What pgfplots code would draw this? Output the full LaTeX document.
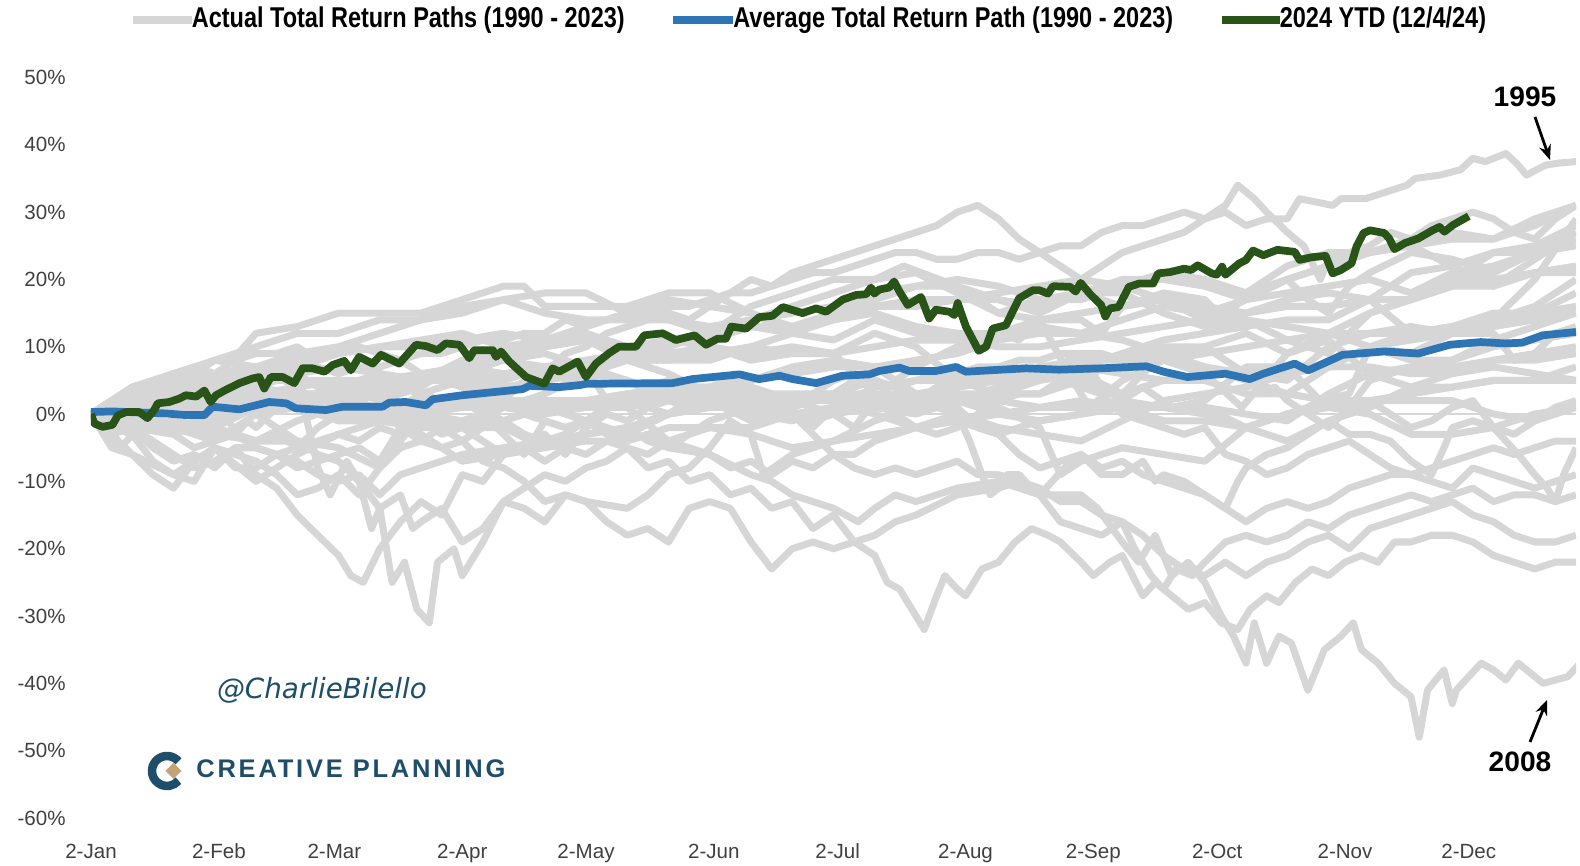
\documentclass[border=0pt]{standalone}
\usepackage{fontspec}
\setmainfont{Liberation Sans}
\newfontfamily\legfont{Liberation Sans}[FakeStretch=0.82]
\newfontfamily\wmfont{DejaVu Sans}
\newfontfamily\cpfont{Liberation Sans}[LetterSpace=11]
\usepackage{pgfplots}
\pgfplotsset{compat=1.18}
\usetikzlibrary{arrows.meta}
\definecolor{pathgray}{RGB}{214,214,214}
\definecolor{avgblue}{RGB}{46,117,182}
\definecolor{ytdgreen}{RGB}{40,84,24}
\definecolor{cpblue}{RGB}{30,78,106}
\definecolor{cptan}{RGB}{196,164,118}
\definecolor{ticktext}{RGB}{64,64,64}

\begin{document}
\begin{tikzpicture}
% page = 1580 x 866 px, 1 px = 0.02 cm, axis box starts at (0,0)
\path (-1.82,-0.96) rectangle (29.78,16.36);
\begin{axis}[
  at={(0,0)}, anchor=south west, scale only axis,
  width=29.7cm, height=14.81cm,
  xmin=0, xmax=360, ymin=-60, ymax=50,
  axis line style={draw=none}, major tick length=0pt,
  ytick={-60,-50,...,50},
  yticklabels={-60\%,-50\%,-40\%,-30\%,-20\%,-10\%,0\%,10\%,20\%,30\%,40\%,50\%},
  xtick={0,31,59,90,120,151,181,212,243,273,304,334},
  xticklabels={2-Jan,2-Feb,2-Mar,2-Apr,2-May,2-Jun,2-Jul,2-Aug,2-Sep,2-Oct,2-Nov,2-Dec},
  ticklabel style={font=\fontsize{11.7}{14}\selectfont, text=ticktext},
  yticklabel style={anchor=east, inner sep=0pt, xshift=-0.5cm},
  xticklabel style={anchor=mid, inner sep=0pt, yshift=-0.72cm},
  gp/.style={pathgray, line width=4pt, line join=round},
]
\draw[pathgray, line width=1.2pt] (axis cs:0,0) -- (axis cs:360,0);

% 1990 - 2023 paths
\addplot[gp] coordinates {(0,0)(5,-1)(10,-2)(15,-4)(20,-6)(25,-8)(30,-7)(35,-5)(40,-5)(45,-6)(50,-5)(55,-4)(60,-3)(65,-4)(70,-2)(75,-3)(80,-2)(85,-1)(90,-2)(95,-1)(100,-1)(105,-3)(110,-4)(115,-3)(120,-1)(125,1)(130,3)(135,2)(140,3)(145,4)(150,4)(155,5)(160,4)(165,3)(170,2)(175,3)(180,3)(185,5)(190,7)(195,5)(200,3)(205,2)(210,1)(215,-2)(220,-3)(225,-6)(230,-8)(235,-7)(240,-6)(245,-8)(250,-7)(255,-9)(260,-10)(265,-11)(270,-12)(275,-14)(280,-16)(285,-14)(290,-13)(295,-14)(300,-13)(305,-11)(310,-10)(315,-9)(320,-9)(325,-8)(330,-7)(335,-6)(340,-5)(345,-6)(350,-5)(355,-4)(360,-4)};
\addplot[gp] coordinates {(0,0)(7,-5)(15,0)(20,3)(30,5)(40,12)(50,13)(60,15)(70,15)(80,15)(90,17)(100,19)(105,19)(110,16)(120,16)(130,16)(140,18)(150,18)(160,15)(170,13)(180,14)(190,16)(200,17)(210,17)(220,17)(230,16)(240,18)(250,16)(260,17)(270,16)(280,15)(290,17)(300,18)(310,17)(320,12)(330,13)(340,14)(350,20)(360,29)};
\addplot[gp] coordinates {(0,0)(10,1)(20,0)(30,1)(40,2)(50,2)(60,1)(70,0)(80,-1)(90,-2)(100,1)(110,0)(120,1)(130,2)(140,3)(150,2)(160,0)(170,-1)(180,1)(190,1)(200,0)(210,2)(220,0)(230,-1)(240,0)(250,1)(260,1)(270,0)(280,-2)(290,0)(300,1)(310,2)(320,3)(330,4)(340,5)(350,5)(360,7)};
\addplot[gp] coordinates {(0,0)(10,1)(20,1)(30,2)(40,3)(50,1)(60,4)(70,5)(80,3)(90,1)(100,2)(110,1)(120,2)(130,3)(140,4)(150,4)(160,3)(170,3)(180,3)(190,3)(200,3)(210,4)(220,5)(230,6)(240,7)(250,6)(260,5)(270,6)(280,6)(290,7)(300,7)(310,7)(320,6)(330,6)(340,8)(350,8)(360,9)};
\addplot[gp] coordinates {(0,0)(10,1)(20,2)(30,3)(40,1)(50,1)(60,-1)(70,0)(80,-3)(90,-7)(100,-6)(110,-5)(120,-4)(130,-4)(140,-2)(150,-2)(160,-3)(170,-5)(180,-4)(190,-3)(200,-2)(210,-1)(220,0)(230,1)(240,2)(250,1)(260,-1)(270,-1)(280,-2)(290,0)(300,1)(310,0)(320,-3)(330,-3)(340,-2)(350,0)(360,1)};
\addplot[gp] coordinates {(0,0)(5,0)(10,1)(15,2)(20,2)(25,3)(30,3)(35,4)(40,5)(45,6)(50,6)(55,7)(60,6)(65,7)(70,7)(75,8)(80,9)(85,9)(90,10)(95,11)(100,11)(105,12)(110,12)(115,14)(120,13)(125,14)(130,15)(135,15)(140,16)(145,16)(150,17)(155,18)(160,18)(165,19)(170,20)(175,21)(180,21)(185,22)(190,23)(195,24)(200,24)(205,23)(210,23)(215,24)(220,24)(225,23)(230,24)(235,25)(240,25)(245,27)(250,28)(255,28)(260,29)(265,30)(270,29)(275,30)(280,28)(285,29)(290,29)(293,32)(301,31)(303,32)(309,32)(314,33)(319,34)(321,35)(327,35.5)(332,36.3)(335,38)(338,37.5)(343,38.7)(345.5,37.3)(348,35.5)(349.5,36)(352.7,37)(356,37.3)(360,37.5)};
\addplot[gp] coordinates {(0,0)(10,-1)(20,2)(30,4)(40,6)(50,5)(60,5)(70,5)(80,6)(90,7)(100,6)(110,7)(120,8)(130,9)(140,11)(150,10)(160,9)(170,10)(180,9)(190,3)(200,2)(210,6)(220,7)(230,6)(240,7)(250,9)(260,11)(270,12)(280,13)(290,14)(300,14)(310,17)(320,21)(330,22)(340,19)(350,21)(360,22)};
\addplot[gp] coordinates {(0,0)(5,2)(10,3)(15,4)(20,5)(25,7)(30,6)(35,8)(40,9)(45,9)(50,10)(55,8)(60,9)(65,10)(70,9)(75,8)(80,6)(85,5)(90,4)(95,3)(100,2)(105,5)(110,6)(115,9)(120,10)(125,12)(130,13)(135,14)(140,15)(145,14)(150,16)(155,18)(160,20)(165,19)(170,21)(175,22)(180,23)(185,24)(190,25)(195,26)(200,27)(205,28)(210,30)(215,31)(220,29)(225,26)(230,24)(235,22)(240,20)(245,22)(250,24)(255,25)(260,26)(265,27)(270,29)(275,31)(278,34)(282,32)(285,30)(290,27)(294,25)(298,20)(300,23)(305,24)(310,25)(315,27)(320,26)(325,28)(330,29)(335,30)(340,29)(345,27)(350,26)(355,29)(360,31)};
\addplot[gp] coordinates {(0,0)(10,-2)(20,1)(30,4)(40,7)(50,9)(60,10)(70,12)(80,14)(90,15)(100,17)(110,15)(120,14)(130,14)(140,14)(150,13)(160,14)(170,16)(180,18)(190,20)(197,22)(210,19)(220,15)(230,14)(237,6)(242,1)(250,5)(260,8)(270,6)(279,1)(290,9)(300,12)(310,15)(320,17)(330,19)(340,19)(350,23)(360,27)};
\addplot[gp] coordinates {(0,0)(10,1)(20,2)(30,4)(40,1)(50,2)(60,4)(70,6)(80,5)(90,7)(100,9)(110,10)(120,11)(130,10)(140,8)(150,8)(160,10)(170,12)(180,14)(190,15)(200,13)(210,12)(220,11)(230,13)(240,12)(250,11)(260,9)(270,7)(280,6)(290,5)(300,10)(310,12)(320,12)(330,13)(340,14)(350,16)(360,20)};
\addplot[gp] coordinates {(0,0)(5,-3)(10,-2)(15,-1)(20,-3)(25,-5)(30,-4)(35,-3)(40,-5)(45,-6)(50,-8)(55,-7)(60,-6)(65,-5)(70,-7)(75,-2)(80,2)(85,1)(90,2)(95,0)(100,-3)(105,-6)(110,-1)(115,-2)(120,-1)(125,-3)(130,-4)(135,-3)(140,-5)(145,-3)(150,-1)(155,0)(160,1)(165,0)(170,0)(175,-1)(180,0)(185,2)(190,3)(195,0)(200,-2)(205,-3)(210,-2)(215,0)(220,2)(225,3)(230,3)(235,5)(240,4)(245,3)(250,0)(255,-1)(260,-2)(265,-3)(270,-2)(275,-6)(280,-7)(285,-9)(290,-8)(295,-6)(300,-5)(305,-4)(310,-6)(315,-8)(320,-9)(325,-10)(330,-11)(335,-8)(340,-9)(345,-10)(350,-11)(355,-10)(360,-9)};
\addplot[gp] coordinates {(0,0)(5,2)(10,1)(15,2)(20,3)(25,2)(30,3)(35,1)(40,0)(45,-2)(50,-4)(55,-6)(60,-7)(65,-10)(70,-14)(75,-12)(78,-17)(80,-16)(85,-14)(90,-19)(95,-17)(100,-13)(105,-11)(110,-9)(115,-10)(120,-8)(125,-7)(130,-5)(135,-6)(140,-4)(145,-5)(150,-6)(155,-8)(160,-7)(165,-9)(170,-7)(175,-8)(180,-6)(185,-8)(190,-9)(195,-8)(200,-9)(205,-8)(210,-7)(215,-9)(220,-9)(225,-10)(230,-11)(235,-13)(240,-13)(245,-15)(250,-16)(253,-20)(257,-24)(260,-26)(263,-23)(267,-24)(270,-22)(275,-19)(280,-18)(285,-19)(290,-18)(295,-16)(300,-17)(305,-15)(310,-14)(315,-13)(320,-12)(325,-13)(330,-12)(335,-11)(340,-13)(345,-12)(350,-12)(355,-13)(360,-12)};
\addplot[gp] coordinates {(0,0)(5,1)(10,0)(15,-2)(20,-3)(25,-1)(30,-2)(35,-3)(40,-4)(45,-3)(50,-5)(55,-2)(60,0)(65,1)(70,0)(75,-1)(80,-1)(85,-3)(90,-2)(95,-4)(100,-6)(105,-5)(110,-7)(115,-5)(120,-6)(125,-4)(130,-5)(135,-8)(140,-7)(145,-10)(150,-9)(155,-12)(160,-11)(165,-14)(170,-13)(175,-17)(180,-15)(185,-19)(190,-21)(193,-25)(196,-26)(199,-29)(202,-32)(205,-27)(207,-24)(210,-26)(212,-27)(216,-23)(220,-22)(224,-19)(228,-17)(232,-18)(235,-19)(240,-22)(243,-24)(247,-22)(250,-21)(255,-27)(258,-25)(262,-27)(266,-29)(270,-28)(274,-31)(278,-32)(281,-29)(285,-27)(288,-28)(292,-25)(296,-23)(300,-24)(304,-22)(308,-21)(312,-22)(316,-19)(320,-19)(325,-18)(330,-18)(335,-19)(340,-21)(345,-22)(350,-23)(355,-22)(360,-22)};
\addplot[gp] coordinates {(0,0)(10,3)(20,1)(30,-2)(40,-4)(50,-4)(60,-5)(70,-8)(80,0)(90,-1)(100,1)(110,3)(120,6)(130,8)(140,8)(150,11)(160,13)(170,12)(180,11)(190,14)(200,12)(210,12)(220,12)(230,14)(240,15)(250,16)(260,17)(270,14)(280,17)(290,18)(300,19)(310,20)(320,18)(330,21)(340,22)(350,24)(360,27)};
\addplot[gp] coordinates {(0,0)(10,2)(20,3)(30,2)(40,3)(50,3)(60,3)(70,-1)(80,-2)(90,2)(100,2)(110,1)(120,-1)(130,-3)(140,0)(150,1)(160,2)(170,2)(180,2)(190,0)(200,-2)(210,-1)(220,-3)(230,-1)(240,0)(250,1)(260,1)(270,1)(280,0)(290,-1)(300,3)(310,6)(320,7)(330,7)(340,8)(350,9)(360,10)};
\addplot[gp] coordinates {(0,0)(10,-2)(20,-3)(30,-1)(40,1)(50,1)(60,1)(70,0)(80,-2)(90,-2)(100,-2)(110,-5)(120,-3)(130,-2)(140,0)(150,1)(160,1)(170,0)(180,1)(190,2)(200,3)(210,3)(220,2)(230,1)(240,1)(250,2)(260,1)(270,1)(280,-2)(290,-4)(300,-1)(310,1)(320,4)(330,4)(340,5)(350,5)(360,5)};
\addplot[gp] coordinates {(0,0)(10,2)(20,0)(30,2)(40,2)(50,3)(60,3)(70,4)(80,5)(90,5)(100,4)(110,5)(120,6)(130,5)(140,2)(150,2)(160,-1)(170,1)(180,3)(190,1)(200,1)(210,3)(220,3)(230,5)(240,6)(250,7)(260,8)(270,9)(280,10)(290,11)(300,12)(310,12)(320,13)(330,12)(340,14)(350,15)(360,16)};
\addplot[gp] coordinates {(0,0)(10,1)(20,2)(30,3)(40,3)(50,4)(60,-1)(70,-1)(80,2)(90,1)(100,3)(110,5)(120,7)(130,8)(140,9)(150,10)(160,8)(170,9)(180,9)(190,12)(200,10)(210,5)(220,3)(230,3)(240,5)(250,3)(260,9)(270,10)(280,12)(290,9)(300,11)(310,6)(320,4)(330,6)(340,7)(350,6)(360,5)};
\addplot[gp] coordinates {(0,0)(5,-3)(10,-6)(15,-9)(20,-11)(25,-7)(30,-5)(35,-8)(40,-8)(45,-6)(50,-7)(55,-9)(60,-10)(65,-9)(70,-12)(75,-9)(80,-8)(85,-7)(90,-6)(100,-5)(110,-4)(120,-3)(130,-2)(135,-4)(140,-5)(150,-6)(160,-9)(165,-10)(170,-12)(180,-14)(186,-16)(190,-14)(195,-12)(200,-13)(210,-11)(220,-10)(230,-12)(240,-12)(244,-14)(250,-19)(254,-22)(258,-18)(262,-24)(266,-22)(270,-25)(274,-30)(277,-33)(280,-37)(282,-31)(285,-37)(288,-33)(291,-34)(295,-41)(299,-35)(303,-33)(306,-31)(308,-35)(312,-37)(316,-40)(320,-42)(322,-48)(324,-41)(328,-38)(330,-43)(331,-41)(337,-37)(340,-38)(343,-39.5)(346,-37)(352,-40)(358,-39)(361,-37)};
\addplot[gp] coordinates {(0,0)(5,1)(10,-2)(15,-5)(20,-7)(25,-6)(30,-8)(35,-5)(40,-9)(45,-11)(50,-15)(55,-18)(60,-21)(63,-24)(66,-25)(70,-20)(75,-16)(80,-13)(85,-15)(90,-9)(95,-10)(100,-6)(110,-3)(115,-6)(120,-2)(125,0)(130,-1)(135,1)(140,0)(150,4)(155,5)(160,4)(165,1)(170,2)(180,0)(185,-2)(190,2)(195,5)(200,7)(210,10)(220,12)(225,11)(230,14)(240,14)(245,12)(250,16)(260,18)(270,17)(275,14)(280,18)(290,20)(295,17)(300,15)(305,19)(310,21)(320,24)(330,23)(335,22)(340,24)(350,24)(360,26)};
\addplot[gp] coordinates {(0,0)(10,2)(20,-2)(30,-3)(40,-4)(50,-1)(60,1)(70,3)(80,5)(90,6)(100,8)(110,9)(120,7)(125,2)(130,1)(140,-4)(150,-2)(160,-2)(170,0)(180,-6)(185,-6)(190,-4)(200,-2)(210,0)(220,-2)(230,-3)(240,-4)(250,-1)(260,2)(270,3)(280,4)(290,6)(300,7)(310,10)(320,8)(330,8)(340,11)(350,13)(360,15)};
\addplot[gp] coordinates {(0,0)(5,1)(10,2)(15,3)(20,3)(25,2)(30,4)(35,5)(40,6)(45,7)(50,6)(55,4)(60,4)(65,3)(70,2)(75,1)(80,3)(85,4)(90,5)(95,4)(100,5)(105,6)(110,7)(115,6)(120,7)(125,6)(130,5)(135,4)(140,5)(145,3)(150,4)(155,2)(160,1)(165,-1)(170,1)(175,3)(180,5)(185,6)(190,5)(195,4)(200,2)(205,1)(210,0)(213,-4)(216,-9)(218,-12)(220,-11)(222,-9)(225,-9)(228,-11)(230,-12)(233,-10)(236,-8)(240,-6)(245,-9)(250,-9)(255,-7)(258,-10)(260,-9)(265,-10)(270,-12)(275,-14)(278,-10)(280,-8)(285,-6)(290,-5)(295,-3)(300,-1)(305,-3)(310,-3)(315,-4)(320,-7)(325,-9)(328,-5)(330,-2)(335,-1)(340,-2)(345,-3)(350,-1)(355,1)(360,2)};
\addplot[gp] coordinates {(0,0)(10,2)(20,4)(30,5)(40,7)(50,8)(60,9)(70,10)(80,11)(90,12)(100,10)(110,10)(120,11)(130,8)(140,6)(150,3)(160,5)(170,7)(180,8)(190,7)(200,8)(210,9)(220,11)(230,12)(240,12)(250,14)(260,16)(270,15)(280,14)(290,13)(300,12)(310,10)(320,9)(330,12)(340,13)(350,14)(360,15)};
\addplot[gp] coordinates {(0,0)(10,4)(20,5)(30,6)(40,7)(50,7)(60,9)(70,10)(80,10)(90,11)(100,12)(110,11)(120,13)(130,15)(140,17)(150,16)(160,15)(170,12)(180,15)(190,18)(200,19)(210,20)(220,19)(230,17)(240,17)(250,19)(260,21)(270,20)(280,18)(290,22)(300,24)(310,24)(320,26)(330,27)(340,26)(350,28)(360,31)};
\addplot[gp] coordinates {(0,0)(10,0)(20,-2)(30,-4)(40,0)(50,1)(60,2)(70,1)(80,1)(90,2)(100,-1)(110,1)(120,1)(130,3)(140,3)(150,4)(160,5)(170,6)(180,7)(190,7)(200,7)(210,4)(220,5)(230,7)(240,8)(250,8)(260,9)(270,7)(280,5)(290,3)(300,7)(310,10)(320,11)(330,12)(340,12)(345,8)(350,9)(355,12)(360,13)};
\addplot[gp] coordinates {(0,0)(10,-2)(20,-1)(30,-2)(40,1)(50,2)(60,2)(70,0)(80,1)(90,1)(100,2)(110,2)(120,2)(130,3)(140,3)(150,2)(160,1)(170,2)(180,0)(190,1)(200,2)(210,2)(220,1)(230,-2)(235,-9)(240,-7)(250,-5)(260,-6)(270,-7)(280,-2)(290,0)(300,2)(310,2)(320,2)(330,2)(340,0)(350,-1)(360,1)};
\addplot[gp] coordinates {(0,0)(5,-5)(10,-6)(20,-9)(30,-5)(40,-10)(50,-6)(60,-3)(70,-1)(80,0)(90,1)(100,1)(110,2)(120,1)(130,1)(140,2)(150,3)(160,2)(170,0)(175,-2)(180,1)(190,4)(200,5)(210,5)(220,6)(230,6)(240,6)(250,3)(260,5)(270,5)(280,3)(290,3)(300,2)(305,1)(310,5)(320,7)(330,8)(340,10)(350,11)(360,12)};
\addplot[gp] coordinates {(0,0)(10,1)(20,2)(30,3)(40,5)(50,6)(60,7)(70,6)(80,5)(90,6)(100,5)(110,7)(120,7)(130,8)(140,8)(150,9)(160,10)(170,9)(180,9)(190,10)(200,11)(210,11)(220,10)(230,10)(240,11)(250,12)(260,13)(270,14)(280,15)(290,16)(300,16)(310,17)(320,17)(330,19)(340,20)(350,21)(360,21)};
\addplot[gp] coordinates {(0,0)(5,2)(10,4)(15,5)(20,6)(25,7)(28,5)(32,1)(35,-3)(38,-1)(40,-2)(45,1)(50,2)(55,3)(60,-1)(65,0)(70,1)(75,-2)(80,-4)(85,-2)(90,-4)(95,-2)(100,-1)(105,0)(110,-1)(115,-2)(120,-1)(125,1)(130,2)(135,1)(140,2)(145,1)(150,2)(155,3)(160,4)(165,3)(170,2)(175,2)(180,3)(185,4)(190,5)(195,4)(200,5)(205,6)(210,6)(215,7)(220,7)(225,8)(230,8)(235,9)(240,9)(245,9)(250,8)(255,9)(260,10)(265,10)(270,10)(275,8)(280,6)(283,3)(287,4)(290,2)(295,0)(300,-2)(305,1)(310,2)(315,0)(320,-2)(325,-1)(330,1)(335,2)(340,-2)(343,-4)(346,-6)(350,-9)(353,-11)(355,-13)(357,-9)(360,-5)};
\addplot[gp] coordinates {(0,0)(10,4)(20,6)(30,8)(40,10)(50,12)(60,12)(70,14)(80,14)(90,16)(100,17)(110,18)(120,18)(130,15)(140,14)(150,12)(160,16)(170,18)(180,20)(190,20)(200,21)(210,18)(220,15)(230,17)(240,18)(250,20)(260,20)(270,19)(280,17)(290,20)(300,22)(310,24)(320,25)(330,26)(340,26)(350,29)(360,31)};
\addplot[gp] coordinates {(0,0)(5,0)(10,1)(15,2)(20,3)(25,0)(30,-1)(35,3)(40,4)(45,5)(48,5)(52,0)(55,-8)(58,-12)(62,-7)(65,-10)(68,-17)(70,-14)(73,-25)(76,-22)(79,-29)(82,-31)(84,-22)(88,-20)(90,-24)(95,-19)(100,-13)(105,-14)(110,-16)(115,-12)(120,-13)(130,-14)(135,-12)(140,-9)(145,-8)(150,-5)(155,-1)(160,-3)(163,-9)(170,-6)(175,-5)(180,-4)(190,-1)(200,1)(210,2)(220,4)(230,6)(240,9)(245,4)(250,2)(255,4)(262,1)(270,2)(280,7)(290,7)(298,2)(305,3)(310,10)(320,12)(330,13)(340,15)(350,15)(360,18)};
\addplot[gp] coordinates {(0,0)(10,2)(20,2)(30,0)(40,4)(50,3)(60,2)(70,4)(80,5)(90,8)(100,10)(110,11)(120,12)(130,10)(140,11)(150,12)(160,13)(170,13)(180,15)(190,16)(200,16)(210,17)(220,18)(230,19)(240,20)(250,19)(260,17)(270,15)(280,17)(290,20)(300,22)(310,24)(320,25)(330,22)(340,24)(350,25)(360,28)};
\addplot[gp] coordinates {(0,0)(5,-2)(10,-3)(15,-7)(20,-9)(25,-10)(30,-5)(35,-6)(40,-7)(45,-9)(50,-12)(55,-11)(60,-9)(65,-12)(70,-8)(75,-5)(80,-4)(85,-5)(90,-4)(95,-7)(100,-8)(105,-10)(110,-13)(115,-12)(120,-13)(125,-16)(130,-18)(135,-17)(140,-19)(145,-14)(150,-13)(155,-14)(160,-19)(165,-23)(170,-20)(175,-19)(180,-20)(185,-19)(190,-18)(195,-16)(200,-15)(210,-12)(220,-11)(225,-10)(230,-12)(235,-16)(240,-17)(245,-18)(250,-16)(255,-18)(260,-21)(265,-23)(270,-24)(275,-22)(280,-24)(285,-22)(290,-21)(295,-19)(300,-18)(305,-20)(310,-17)(315,-16)(320,-15)(325,-14)(330,-13)(335,-15)(340,-16)(345,-18)(350,-19)(355,-19)(360,-18)};
\addplot[gp] coordinates {(0,0)(10,3)(20,4)(30,8)(40,7)(50,4)(60,5)(70,2)(80,4)(90,8)(100,8)(110,7)(120,8)(130,8)(140,10)(150,12)(160,14)(170,15)(180,16)(190,17)(200,19)(210,19)(220,17)(230,15)(240,18)(250,18)(260,15)(270,13)(280,14)(290,11)(300,9)(310,15)(320,17)(330,20)(340,21)(350,24)(360,25)};

% average path
\addplot[avgblue, line width=4.4pt, line join=round] coordinates {(0,0.3)(5,0.4)(13.3,0.2)(18,0.1)(23,-0.15)(27.5,-0.15)(29.5,1.1)(36,0.7)(43.2,1.8)(47.3,1.6)(49.7,0.85)(57,0.6)(61,1.1)(70.7,1.1)(72.3,1.7)(76.3,1.8)(81.2,1.3)(82.8,2.2)(90,2.8)(98.2,3.3)(104.6,3.7)(106.3,4.2)(113.5,4.0)(118.4,4.3)(120,4.5)(141,4.6)(145.8,5.2)(157.2,5.9)(162,5.2)(166.9,5.7)(170.1,5.2)(175.8,4.6)(182.2,5.7)(188.7,5.9)(191.1,6.4)(196,6.9)(198.4,6.4)(204.8,6.4)(209.7,7)(212.1,6.3)(217.8,6.5)(226.7,6.8)(234.7,6.6)(244.9,6.8)(255.8,7.1)(260,6.3)(265.8,5.5)(275,6)(280.9,5.2)(284.2,6)(291.8,7.5)(295.1,6.5)(303.4,8.8)(313.5,9.3)(321.8,9)(329.4,10.3)(336.9,10.7)(342.7,10.5)(346.9,10.6)(351.9,11.7)(360,12.2)};

% 2024 YTD
\addplot[ytdgreen, line width=4.4pt, line join=round] coordinates {(0,0)(0.8,-1.4)(2.8,-1.9)(5.2,-1.6)(6.5,-0.2)(8.5,0.3)(11.7,0.3)(13.7,-0.6)(15.3,0.6)(16.2,1.6)(19,1.8)(21.4,2.3)(23,2.8)(25.5,2.6)(27.5,3.5)(29,1.8)(30.3,2.8)(32.7,3.6)(36,4.6)(39.2,5.3)(40.8,5.5)(42,3.8)(43.6,5.5)(46.5,5.5)(49.3,4.6)(51.3,6.8)(53.7,6.8)(56.6,6.3)(58.6,7.3)(61.4,7.9)(63,6.5)(65,8.5)(68.3,7.5)(70.3,8.8)(74.7,7.5)(78.8,10.3)(81.2,10.1)(84,9.5)(86,10.5)(89.3,10.3)(91.7,8.3)(92.9,9.5)(97.4,9.5)(98.2,8.5)(99.4,9.3)(101.4,7.8)(105.5,5.5)(109.9,4.5)(111.9,6.8)(113.5,6.3)(118,7.8)(120,5.5)(122.4,7.5)(125.7,9.1)(128,10)(132.1,10)(134.1,11.7)(138.6,12)(141.8,11)(146.3,11.7)(149.1,10.3)(151.9,11.2)(153.9,11.2)(155.2,13)(158.8,12.7)(162,14.4)(165.2,14.6)(167.7,15.9)(172.5,15)(175.8,15.7)(178.2,15.2)(182.2,17)(185.5,17.7)(187.9,17.8)(189.1,18.8)(189.9,17.9)(191.1,18.5)(193.5,18.8)(194.7,19.7)(196,18.2)(198,16.2)(201.2,17.4)(203.2,14.2)(204.8,15.5)(208.1,15.2)(209.3,14.7)(210.1,16.5)(212.1,13)(215.2,9.4)(217,10)(218.6,12.7)(221.8,13.2)(225,17.2)(228.3,18.4)(229.9,18.4)(232,17.9)(233.2,19)(237.4,18.9)(238.7,18.2)(239.9,19.5)(242.4,17.7)(244.9,16.2)(245.9,14.5)(247,15.7)(249.1,15.9)(251.6,18.9)(254.1,19.4)(257.5,19.4)(258.7,20.9)(261.6,21.1)(265,21.6)(266.7,21.4)(268.3,22.1)(271.7,20.9)(272.9,20.7)(274.2,21.9)(275,20.7)(278.4,22.4)(280,22.9)(281.7,24.3)(284.2,23.6)(287.6,24.4)(291.8,24.1)(293,22.9)(295.9,23.3)(299.3,23.5)(301,20.9)(303,21.4)(305.6,22.4)(306.8,24.9)(308.5,26.9)(310.1,27.3)(313.5,26.9)(314.7,26.1)(316,24.5)(318.5,25.4)(321.8,26.1)(325.2,27.3)(326.9,27.8)(328.1,27.1)(330.2,28.1)(334,29.4)};
\end{axis}

% legend
\draw[pathgray, line width=0.16cm] (0.84,15.96) -- (2.01,15.96);
\node[anchor=mid west, inner sep=0pt, font=\legfont\bfseries\fontsize{16.3}{19}\selectfont] at (2.01,15.9) {Actual Total Return Paths (1990 - 2023)};
\draw[avgblue, line width=0.16cm] (11.64,15.96) -- (12.84,15.96);
\node[anchor=mid west, inner sep=0pt, font=\legfont\bfseries\fontsize{16.3}{19}\selectfont] at (12.84,15.9) {Average Total Return Path (1990 - 2023)};
\draw[ytdgreen, line width=0.16cm] (22.61,15.96) -- (23.77,15.96);
\node[anchor=mid west, inner sep=0pt, font=\legfont\bfseries\fontsize{16.3}{19}\selectfont] at (23.77,15.9) {2024 YTD (12/4/24)};

% year callouts
\node[font=\bfseries\fontsize{16}{19}\selectfont] at (28.68,14.42) {1995};
\draw[-{Stealth[length=0.3cm,width=0.24cm]}, line width=1.6pt] (28.88,14.02) -- (29.18,13.16);
\node[font=\bfseries\fontsize{16}{19}\selectfont] at (28.58,1.12) {2008};
\draw[-{Stealth[length=0.3cm,width=0.24cm]}, line width=1.6pt] (28.78,1.52) -- (29.12,2.36);

% watermark and logo
\node[text=cpblue, font=\wmfont\itshape\fontsize{15.8}{19}\selectfont] at (4.62,2.56) {@CharlieBilello};
\draw[cpblue, line width=0.17cm] (1.52,0.94) ++(40:0.3) arc (40:320:0.3);
\fill[cptan] (1.49,0.94) -- (1.65,1.1) -- (1.81,0.94) -- (1.65,0.78) -- cycle;
\node[anchor=mid west, inner sep=0pt, text=cpblue, font=\cpfont\bfseries\fontsize{14.5}{17}\selectfont] at (2.1,0.9) {CREATIVE PLANNING};
\end{tikzpicture}
\end{document}
